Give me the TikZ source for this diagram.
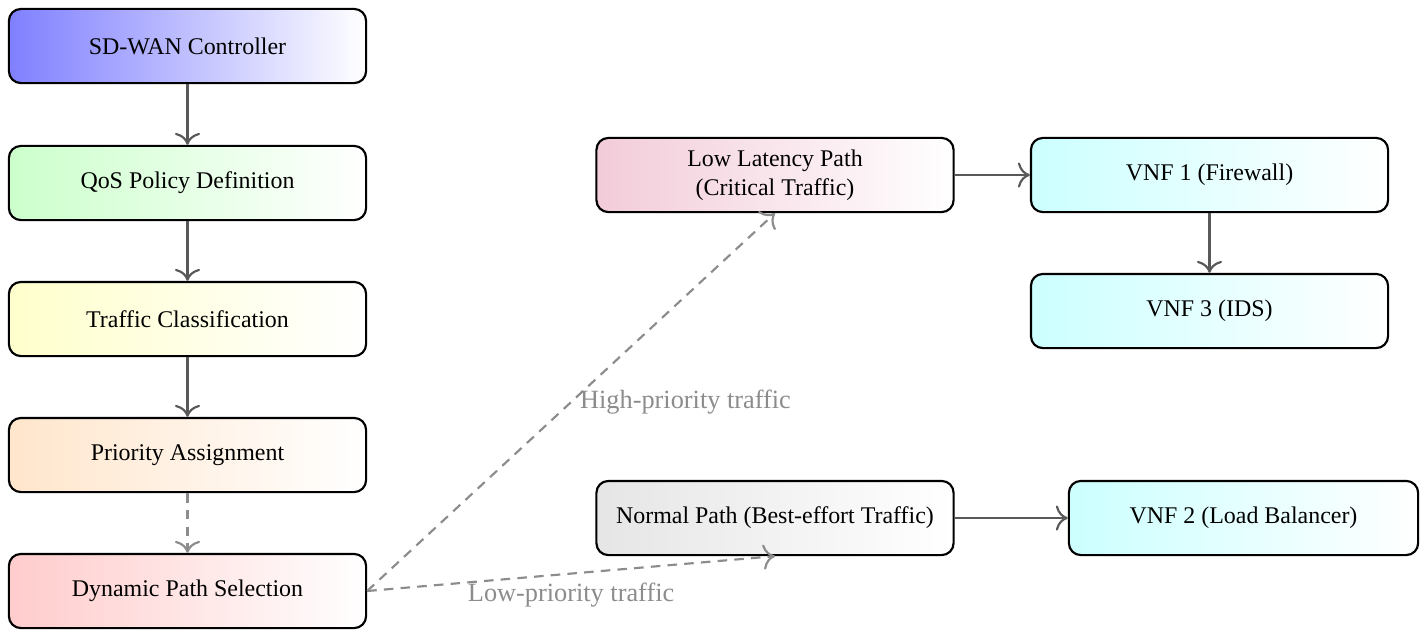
\documentclass[tikz,border=0pt]{standalone}
\usepackage{fontspec}
\setmainfont{Liberation Serif}
\usetikzlibrary{arrows.meta}
\begin{document}
\begin{tikzpicture}[x=0.418pt,y=-0.418pt,
  box/.style={draw=black, line width=0.9pt, rounded corners=5pt, align=center,
    minimum height=31pt, inner sep=3pt, right color=white},
  wbox/.style={box, minimum width=149.3pt},
  flow/.style={-{To[scale=1.4]}, line width=0.9pt, draw=black!65},
  dflow/.style={-{To[scale=1.4]}, line width=0.9pt, draw=black!45, dash pattern=on 4pt off 3pt},
  lbl/.style={text=black!45, font=\fontsize{11}{13}\selectfont}
]
\useasboundingbox (0,0) rectangle (1420,629);
\node[wbox, left color=blue!50] (ctrl) at (187.5,46) {SD-WAN Controller};
\node[wbox, left color=green!20] (qos) at (187.5,183) {QoS Policy Definition};
\node[wbox, left color=yellow!20] (cls) at (187.5,319) {Traffic Classification};
\node[wbox, left color=orange!20] (prio) at (187.5,455) {Priority Assignment};
\node[wbox, left color=red!20] (dyn) at (187.5,591) {Dynamic Path Selection};
\node[wbox, left color=purple!20] (low) at (775,175) {Low Latency Path\\(Critical Traffic)};
\node[wbox, left color=cyan!20] (vnf1) at (1209.5,175) {VNF 1 (Firewall)};
\node[wbox, left color=cyan!20] (vnf3) at (1209.5,311) {VNF 3 (IDS)};
\node[wbox, left color=gray!20] (norm) at (775,518) {Normal Path (Best-effort Traffic)};
\node[box, minimum width=146pt, left color=cyan!20] (vnf2) at (1243.5,518) {VNF 2 (Load Balancer)};

\draw[flow] (ctrl) -- (qos);
\draw[flow] (qos) -- (cls);
\draw[flow] (cls) -- (prio);
\draw[dflow] (prio) -- (dyn);
\draw[dflow] (dyn.east) -- node[lbl, midway, anchor=west] {High-priority traffic} (low.south);
\draw[dflow] (dyn.east) -- node[lbl, midway, anchor=north] {Low-priority traffic} (norm.south);
\draw[flow] (low) -- (vnf1);
\draw[flow] (vnf1) -- (vnf3);
\draw[flow] (norm) -- (vnf2);
\end{tikzpicture}
\end{document}
